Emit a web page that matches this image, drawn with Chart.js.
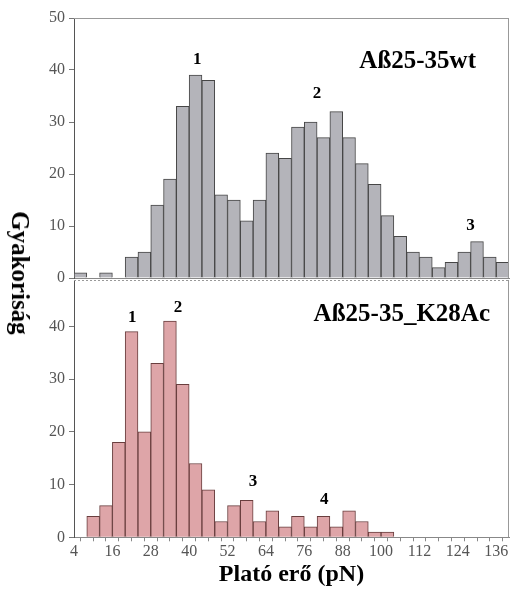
<!DOCTYPE html>
<html><head><meta charset="utf-8">
<script src="https://cdn.jsdelivr.net/npm/chart.js@4"></script>
<style>
html,body{margin:0;padding:0;background:#fff;}
#wrap{position:relative;width:512px;height:592px;overflow:hidden;background:#fff;}
#c1{position:absolute;left:0;top:0;}
#c2{position:absolute;left:0;top:264px;}
#ytitle{position:absolute;left:20px;top:273px;transform:translate(-50%,-50%) rotate(90deg);font:bold 25px "Liberation Serif";white-space:nowrap;color:#000;}
</style></head><body>
<div id="wrap">
<canvas id="c1" width="512" height="294"></canvas>
<canvas id="c2" width="512" height="328"></canvas>
<div id="ytitle">Gyakoriság</div>
</div>
<script>
// Bin centers (pN), 4 pN wide bins
const binCenters = [6,10,14,18,22,26,30,34,38,42,46,50,54,58,62,66,70,74,78,82,86,90,94,98,102,106,110,114,118,122,126,130,134,138];
// Aß25-35wt counts
const wtCounts = [1,0,1,0,4,5,14,19,33,39,38,16,15,11,15,24,23,29,30,27,32,27,22,18,12,8,5,4,2,3,5,7,4,3];
// Aß25-35_K28Ac counts
const k28Counts = [0,4,6,18,39,20,33,41,29,14,9,3,6,7,3,5,2,4,2,4,2,5,3,1,1,0,0,0,0,0,0,0,0,0];
// x tick labels shown
const xTickLabels = [4,16,28,40,52,64,76,88,100,112,124,136];
const topYTicks = [0,10,20,30,40,50];
const botYTicks = [0,10,20,30,40];
// panel titles and peak labels
const wtTitle = 'Aß25-35wt';
const k28Title = 'Aß25-35_K28Ac';
const wtPeakNames = ['1','2','3'];
const k28PeakNames = ['1','2','3','4'];

// annotation placement (data space)
const wtPeakPos = [[42.5,42],[80,35.5],[128,10]];
const k28PeakPos = [[22.2,41.6],[36.5,43.6],[60,10.6],[82.2,7.2]];

const SERIF = '"Liberation Serif", "Times New Roman", serif';

function framePlugin(dashedTop, title, titleRightOff, titleY, peaks, peakPos){
  return {
    id:'frame',
    afterDatasetsDraw(chart){
      const {ctx, chartArea:a, scales} = chart;
      ctx.save();
      ctx.strokeStyle = '#999';
      ctx.lineWidth = 1;
      if (dashedTop) ctx.setLineDash([2,2]);
      ctx.beginPath(); ctx.moveTo(a.left, a.top+0.5); ctx.lineTo(a.right, a.top+0.5); ctx.stroke();
      ctx.setLineDash([]);
      ctx.beginPath(); ctx.moveTo(a.right-0.5, a.top); ctx.lineTo(a.right-0.5, a.bottom); ctx.stroke();
      ctx.fillStyle = '#000';
      ctx.font = 'bold 25px ' + SERIF;
      ctx.textAlign = 'right';
      ctx.textBaseline = 'middle';
      ctx.fillText(title, a.right - titleRightOff, titleY);
      ctx.font = 'bold 17px ' + SERIF;
      ctx.textAlign = 'center';
      peaks.forEach((p,i)=>{
        const x = scales.x.getPixelForValue(peakPos[i][0]);
        const y = scales.y.getPixelForValue(peakPos[i][1]);
        ctx.fillText(p, x, y);
      });
      ctx.restore();
    }
  };
}

function makeChart(id, counts, bg, bd, yMax, yTicks, isBottom, plugin){
  return new Chart(document.getElementById(id), {
    type:'bar',
    data:{
      datasets:[{
        data: binCenters.map((c,i)=>({x:c, y:counts[i]})),
        backgroundColor: bg,
        borderColor: bd,
        borderWidth: 1,
        barPercentage: 1,
        categoryPercentage: 1
      }]
    },
    options:{
      responsive:false,
      animation:false,
      devicePixelRatio:1,
      layout:{padding: isBottom ? {top:16,right:3,bottom:5,left:0} : {top:18,right:3,bottom:0,left:0}},
      plugins:{legend:{display:false},tooltip:{enabled:false}},
      scales:{
        x:{
          type:'linear', min:4, max:140, offset:false,
          border:{display:true, color:'#888', width:1},
          grid:{display:isBottom, drawOnChartArea:false, tickLength:4, color:'#888'},
          ticks:{
            display:isBottom, stepSize:4, autoSkip:false, maxRotation:0, padding:1,
            color:'#555', font:{family:SERIF, size:16},
            callback:(v)=> xTickLabels.includes(v) ? String(v) : ''
          },
          title:{display:isBottom, text:'Plató erő (pN)', color:'#000', font:{family:SERIF, size:24, weight:'bold', lineHeight:1}, padding:{top:0.5,bottom:0}},
          afterFit: isBottom ? undefined : (s)=>{ s.height = 16; }
        },
        y:{
          min:0, max:yMax,
          border:{display:true, color:'#555', width:1},
          grid:{display:true, drawOnChartArea:false, tickLength:5, color:'#777'},
          ticks:{
            stepSize:10, includeBounds:false, padding:4,
            color:'#555', font:{family:SERIF, size:16},
            callback:(v)=> yTicks.includes(v) ? String(v) : ''
          },
          afterFit:(s)=>{ s.width = 74; }
        }
      }
    },
    plugins:[plugin]
  });
}

makeChart('c1', wtCounts, 'rgb(180,180,186)', 'rgb(70,70,70)', 50, topYTicks, false,
  framePlugin(false, wtTitle, 33, 62, wtPeakNames, wtPeakPos));
makeChart('c2', k28Counts, 'rgb(222,165,168)', 'rgb(105,62,62)', 48.8, botYTicks, true,
  framePlugin(true, k28Title, 19, 51, k28PeakNames, k28PeakPos));
</script>
</body></html>
